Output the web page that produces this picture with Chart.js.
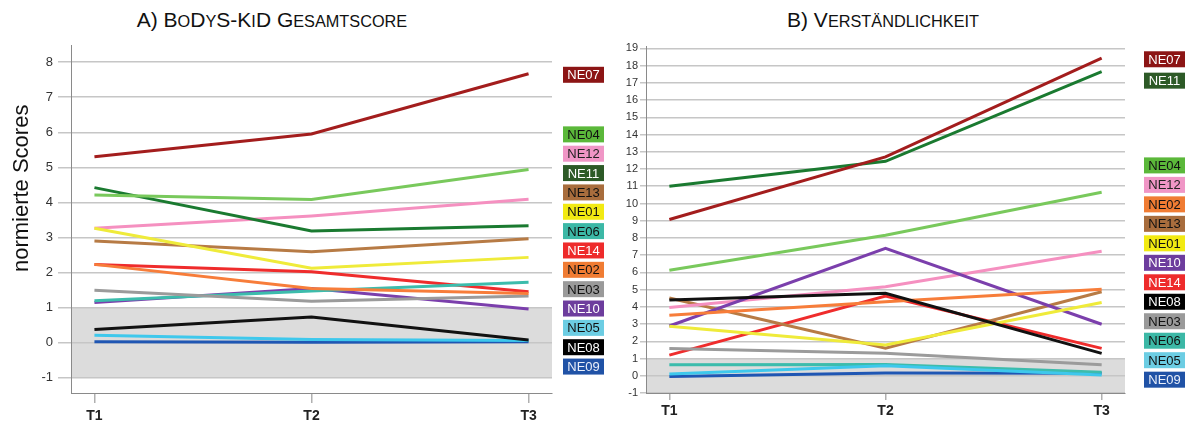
<!DOCTYPE html>
<html>
<head>
<meta charset="utf-8">
<script src="https://cdn.jsdelivr.net/npm/chart.js@4.4.1/dist/chart.umd.min.js"></script>
<style>
    body {
        margin: 0;
        background: #fff;
        width: 1187px;
        height: 426px;
        position: relative;
        overflow: hidden;
        font-family: "Liberation Sans", Arial, sans-serif;
    }
    .title {
        position: absolute;
        top: 9px;
        font-size: 21px;
        line-height: 1;
        color: #111;
        white-space: nowrap;
        transform: translateX(-50%);
    }
    .sc { font-size: 16.3px; text-transform: uppercase; }
    #wrapA { position: absolute; left: 0; top: 0; width: 610px; height: 426px; }
    #wrapB { position: absolute; left: 610px; top: 0; width: 577px; height: 426px; }
</style>
</head>
<body>
<div class="title" style="left:272px">A) B<span class="sc">o</span>D<span class="sc">y</span>S-K<span class="sc">i</span>D G<span class="sc">esamtscore</span></div>
<div class="title" style="left:883px">B) V<span class="sc">erständlichkeit</span></div>
<div id="wrapA"><canvas id="chartA"></canvas></div>
<div id="wrapB"><canvas id="chartB"></canvas></div>
<script>
// Messzeitpunkte und Teilnehmer
const timepoints = ["T1", "T2", "T3"];
const participants = ["NE01", "NE02", "NE03", "NE04", "NE05", "NE06", "NE07",
    "NE08", "NE09", "NE10", "NE11", "NE12", "NE13", "NE14"];

// A) BoDyS-KiD Gesamtscore, je Teilnehmer [T1, T2, T3]
const gesamtscore = [
    [3.26, 2.12, 2.43],   // NE01
    [2.23, 1.54, 1.40],   // NE02
    [1.49, 1.18, 1.33],   // NE03
    [4.21, 4.08, 4.94],   // NE04
    [0.21, 0.09, 0.06],   // NE05
    [1.19, 1.47, 1.72],   // NE06
    [5.30, 5.95, 7.67],   // NE07
    [0.37, 0.73, 0.07],   // NE08
    [0.02, 0.01, 0.02],   // NE09
    [1.14, 1.54, 0.96],   // NE10
    [4.42, 3.18, 3.33],   // NE11
    [3.26, 3.61, 4.09],   // NE12
    [2.90, 2.59, 2.96],   // NE13
    [2.23, 2.02, 1.45],   // NE14
];

// B) Verständlichkeit, je Teilnehmer [T1, T2, T3]
const verstaendlichkeit = [
    [2.87, 1.79, 4.25],   // NE01
    [3.51, 4.30, 5.02],   // NE02
    [1.59, 1.31, 0.64],   // NE03
    [6.12, 8.16, 10.65],  // NE04
    [0.10, 0.58, 0.05],   // NE05
    [0.64, 0.66, 0.20],   // NE06
    [9.07, 12.70, 18.43], // NE07
    [4.40, 4.79, 1.30],   // NE08
    [-0.04, 0.16, 0.15],  // NE09
    [2.89, 7.39, 2.99],   // NE10
    [11.00, 12.45, 17.65],// NE11
    [3.96, 5.17, 7.23],   // NE12
    [4.51, 1.60, 4.88],   // NE13
    [1.20, 4.63, 1.59],   // NE14
];

const yTicksA = [-1, 0, 1, 2, 3, 4, 5, 6, 7, 8];
const yTicksB = [-1, 0, 1, 2, 3, 4, 5, 6, 7, 8, 9, 10, 11, 12, 13, 14, 15, 16, 17, 18, 19];

// Reihenfolge der Namensschilder rechts neben den Linien
const tagOrderA = [["NE07"], ["NE04", "NE12", "NE11", "NE13", "NE01", "NE06", "NE14",
    "NE02", "NE03", "NE10", "NE05", "NE08", "NE09"]];
const tagOrderB = [["NE07", "NE11"], ["NE04", "NE12", "NE02", "NE13", "NE01", "NE10",
    "NE14", "NE08", "NE03", "NE06", "NE05", "NE09"]];

const lineColors = ["#efeb3a", "#f77d3a", "#9b9b9b", "#79c95c", "#3ec8ec", "#3cbcac", "#a31d1d",
    "#111111", "#1f56b3", "#7b3fac", "#1a7a30", "#f590c0", "#b77b45", "#ef2c2c"];
const tagColors = ["#f2ea12", "#f07c33", "#9a9a9a", "#5bb83a", "#6ccde3", "#3cb8a6", "#8c1515",
    "#000000", "#2052a6", "#6d3d9d", "#2d5a27", "#f096c6", "#a86d3d", "#ee2b2b"];
const tagText = ["#111", "#111", "#111", "#111", "#111", "#111", "#fff",
    "#fff", "#e8eefa", "#fff", "#fff", "#222", "#111", "#fff"];

const FONT = '"Liberation Sans", Arial, sans-serif';

// grauer Bereich zwischen -1 und 1
const bandPlugin = {
    id: "band",
    beforeDraw(chart, args, opts) {
        const { ctx, chartArea, scales } = chart;
        const top = scales.y.getPixelForValue(opts.from);
        const bottom = scales.y.getPixelForValue(opts.to);
        ctx.save();
        ctx.fillStyle = opts.color;
        ctx.fillRect(chartArea.left, top, chartArea.right - chartArea.left, bottom - top);
        ctx.restore();
    },
};

// farbige Namensschilder + Achsentitel (etwas oberhalb der Mitte, wie im Original)
const tagPlugin = {
    id: "tags",
    afterDraw(chart, args, opts) {
        const { ctx, scales } = chart;
        ctx.save();
        ctx.font = "13px " + FONT;
        ctx.textAlign = "center";
        ctx.textBaseline = "middle";
        opts.groups.forEach((group, gi) => {
            let cy = scales.y.getPixelForValue(opts.starts[gi]);
            group.forEach((name) => {
                const i = participants.indexOf(name);
                ctx.fillStyle = tagColors[i];
                ctx.fillRect(opts.x, cy - 8, 41, 16);
                ctx.fillStyle = tagText[i];
                ctx.fillText(name, opts.x + 20.5, cy + 1);
                cy += opts.steps[gi];
            });
        });
        if (opts.yTitle) {
            ctx.translate(22, scales.y.getPixelForValue(opts.yTitleAt));
            ctx.rotate(-Math.PI / 2);
            ctx.font = "22px " + FONT;
            ctx.fillStyle = "#111";
            ctx.fillText(opts.yTitle, 0, 0);
        }
        ctx.restore();
    },
};

const makeDatasets = (values) =>
    participants.map((name, i) => ({
        label: name,
        data: values[i].map((v, t) => ({ x: t, y: v })),
        borderColor: lineColors[i],
        backgroundColor: lineColors[i],
        borderWidth: 3,
        pointRadius: 0,
        tension: 0,
        order: name === "NE08" ? -1 : 0,
    }));

const makeChart = (id, values, cfg) =>
    new Chart(document.getElementById(id), {
        type: "line",
        data: { datasets: makeDatasets(values) },
        plugins: [bandPlugin, tagPlugin],
        options: {
            responsive: true,
            maintainAspectRatio: false,
            animation: false,
            layout: { padding: { top: cfg.top, right: cfg.right, left: 0, bottom: 0 } },
            scales: {
                x: {
                    type: "linear",
                    min: -0.108,
                    max: 2.108,
                    afterBuildTicks: (s) => { s.ticks = timepoints.map((t, i) => ({ value: i })); },
                    afterFit: (s) => { s.height = 33; },
                    ticks: {
                        callback: (v) => timepoints[v],
                        color: "#222",
                        font: { family: FONT, size: 14, weight: "bold" },
                        padding: cfg.xPad,
                        autoSkip: false,
                        maxRotation: 0,
                    },
                    grid: { drawOnChartArea: false, tickLength: cfg.xTick, color: "#b0b0b0", lineWidth: 1.5 },
                    border: { color: "#8a8a8a", width: 1 },
                },
                y: {
                    min: cfg.yMin,
                    max: cfg.yMax,
                    afterBuildTicks: (s) => { s.ticks = cfg.yTicks.map((v) => ({ value: v })); },
                    afterFit: (s) => { s.width = cfg.yWidth; },
                    ticks: {
                        color: "#333",
                        font: { family: FONT, size: cfg.yFont },
                        padding: cfg.yPad,
                    },
                    grid: { color: "#c6c6c6", lineWidth: 1.5, tickLength: cfg.yTick },
                    border: { color: "#8a8a8a", width: 1 },
                },
            },
            plugins: {
                legend: { display: false },
                tooltip: { enabled: false },
                band: { from: 1, to: -1, color: "#dcdcdc" },
                tags: cfg.tags,
            },
        },
    });

makeChart("chartA", gesamtscore, {
    top: 45, right: 58, xPad: 5, xTick: 10,
    yMin: -1.44, yMax: 8.49, yTicks: yTicksA, yWidth: 71, yFont: 13, yPad: 5, yTick: 13,
    tags: { x: 563, groups: tagOrderA, starts: [7.64, 5.94], steps: [19.35, 19.35],
        yTitle: "normierte Scores", yTitleAt: 4.4 },
});

makeChart("chartB", verstaendlichkeit, {
    top: 46, right: 62, xPad: 3, xTick: 7,
    yMin: -1, yMax: 19.14, yTicks: yTicksB, yWidth: 36, yFont: 11, yPad: 2, yTick: 6,
    tags: { x: 534, groups: tagOrderB, starts: [18.37, 12.21], steps: [21.4, 19.48] },
});
</script>
</body>
</html>
